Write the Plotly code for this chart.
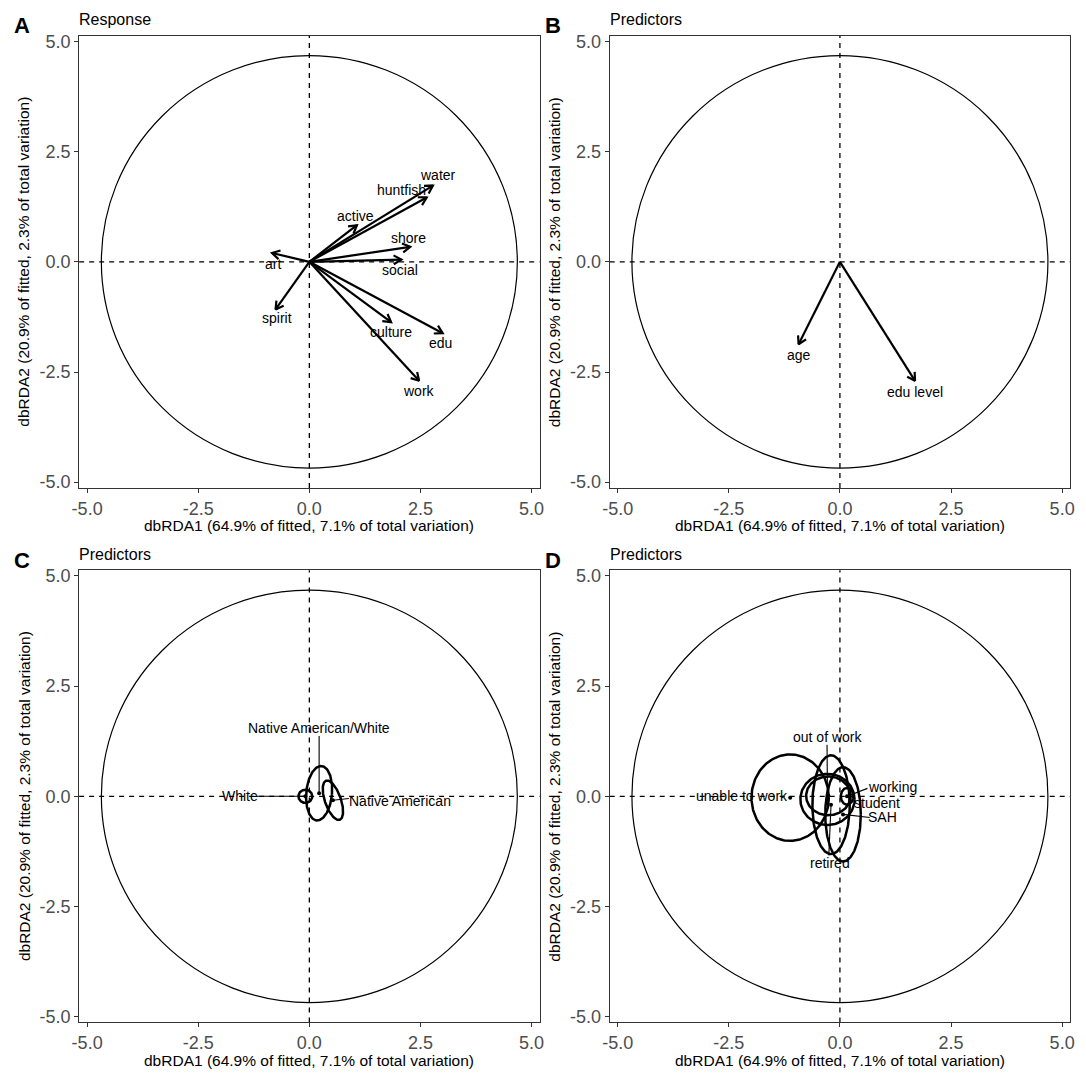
import numpy as np
import plotly.graph_objects as go

# ---------------- data ----------------
tick_vals = [-5.0, -2.5, 0.0, 2.5, 5.0]
tick_text = ["-5.0", "-2.5", "0.0", "2.5", "5.0"]
circle_radius = 4.68

x_title = "dbRDA1 (64.9% of fitted, 7.1% of total variation)"
y_title = "dbRDA2 (20.9% of fitted, 2.3% of total variation)"
panel_letters = ["A", "B", "C", "D"]
panel_titles = ["Response", "Predictors", "Predictors", "Predictors"]

# Panel A: response vectors
resp_names = ["water", "huntfish", "active", "shore", "social", "art", "spirit", "culture", "edu", "work"]
resp_x = [2.78, 2.64, 1.07, 2.27, 2.07, -0.84, -0.76, 1.84, 3.00, 2.47]
resp_y = [1.73, 1.46, 0.83, 0.34, 0.05, 0.20, -1.08, -1.37, -1.62, -2.70]
resp_lab_x = [2.89, 2.07, 1.04, 2.22, 2.04, -0.82, -0.73, 1.84, 2.96, 2.47]
resp_lab_y = [1.96, 1.64, 1.04, 0.54, -0.18, -0.05, -1.28, -1.60, -1.85, -2.93]

# Panel B: continuous predictors
pred_names = ["age", "edu level"]
pred_x = [-0.93, 1.69]
pred_y = [-1.87, -2.70]
pred_lab_x = [-0.93, 1.69]
pred_lab_y = [-2.12, -2.95]

# Panel C: ethnicity centroids and ellipses
eth_names = ["White", "Native American/White", "Native American"]
eth_cx = [-0.09, 0.22, 0.53]
eth_cy = [0.00, 0.07, -0.09]
eth_rx = [0.155, 0.29, 0.18]
eth_ry = [0.15, 0.62, 0.47]
eth_tilt = [0, 5, -19]
eth_lab_x = [-1.55, 0.22, 2.04]
eth_lab_y = [0.00, 1.55, -0.11]
eth_seg_x = [-1.18, 0.22, 0.89]
eth_seg_y = [0.00, 1.37, -0.05]

# Panel D: employment centroids and ellipses
emp_names = ["unable to work", "out of work", "retired", "working", "student", "SAH"]
emp_cx = [-1.12, -0.28, -0.20, 0.16, -0.26, 0.07]
emp_cy = [-0.03, -0.07, -0.19, 0.00, 0.01, -0.41]
emp_rx = [0.87, 0.61, 0.42, 0.14, 0.50, 0.40]
emp_ry = [0.98, 0.58, 1.12, 0.19, 0.44, 1.07]
emp_tilt = [0, 0, 0, 0, 0, 0]
emp_lab_x = [-2.21, -0.29, -0.22, 1.18, 0.84, 0.96]
emp_lab_y = [0.00, 1.35, -1.51, 0.20, -0.15, -0.48]
emp_seg_x = [None, -0.29, -0.25, 0.62, None, 0.67]
emp_seg_y = [None, 1.17, -1.34, 0.18, None, -0.48]

# ---------------- layout geometry ----------------
W, H = 1086, 1074
FONT = "Liberation Sans, Arial, Helvetica, sans-serif"
XR = [-5.18, 5.18]
YR = [-5.13, 5.13]
cols = [(72, 538), (609, 1075)]
rows = [(32, 488), (571, 1027)]
panel_geo = [(cols[0], rows[0]), (cols[1], rows[0]), (cols[0], rows[1]), (cols[1], rows[1])]
PX_X = (cols[0][1] - cols[0][0]) / (XR[1] - XR[0])
PX_Y = (rows[0][1] - rows[0][0]) / (YR[1] - YR[0])

fig = go.Figure()


def refs(i):
    s = "" if i == 0 else str(i + 1)
    return "x" + s, "y" + s


def arrow_path(xs, ys, head=9.0, ang=30.0):
    px, py = [], []
    for x, y in zip(xs, ys):
        px += [0, x, None]
        py += [0, y, None]
        th = np.arctan2(y * PX_Y, x * PX_X)
        for s in (1, -1):
            a = th + s * np.radians(ang)
            hx = x - head * np.cos(a) / PX_X
            hy = y - head * np.sin(a) / PX_Y
            px += [hx, x]
            py += [hy, y]
        px.append(None)
        py.append(None)
    return px, py


def ellipse_path(cx, cy, rx, ry, tilt):
    t = np.linspace(0, 2 * np.pi, 181)
    phi = np.radians(tilt)
    xp, yp = rx * np.cos(t), ry * np.sin(t)
    x = cx + xp * np.cos(phi) + yp * np.sin(phi)
    y = cy - xp * np.sin(phi) + yp * np.cos(phi)
    return list(x), list(y)


annotations = []
shapes = []

for i in range(4):
    xr, yr = refs(i)
    (x0, x1), (y0, y1) = panel_geo[i]
    ax = "xaxis" if i == 0 else "xaxis%d" % (i + 1)
    ay = "yaxis" if i == 0 else "yaxis%d" % (i + 1)
    common = dict(showgrid=False, zeroline=False, showline=True, mirror=True,
                  linecolor="#333333", linewidth=1.2, ticks="outside", ticklen=4,
                  tickcolor="#333333", tickwidth=1.1, tickvals=tick_vals, ticktext=tick_text,
                  tickfont=dict(family=FONT, size=18, color="#4d4d4d"), fixedrange=True)
    fig.layout[ax] = dict(common, domain=[x0 / W, x1 / W], range=XR, anchor=yr)
    fig.layout[ay] = dict(common, domain=[1 - y1 / H, 1 - y0 / H], range=YR, anchor=xr)

    # reference lines and circle
    shapes.append(dict(type="line", xref=xr, yref=yr + " domain", x0=0, x1=0, y0=0, y1=1,
                       line=dict(color="black", width=1.3, dash="5px,5px"), layer="below"))
    shapes.append(dict(type="line", xref=xr + " domain", yref=yr, x0=0, x1=1, y0=0, y1=0,
                       line=dict(color="black", width=1.3, dash="5px,5px"), layer="below"))
    shapes.append(dict(type="circle", xref=xr, yref=yr, x0=-circle_radius, x1=circle_radius,
                       y0=-circle_radius, y1=circle_radius,
                       line=dict(color="black", width=1.2), layer="below"))

    # titles
    annotations.append(dict(text="<b>%s</b>" % panel_letters[i], xref="paper", yref="paper",
                            x=(x0 - 68) / W, y=1 - (y0 - 10) / H, xanchor="left", yanchor="middle",
                            showarrow=False, font=dict(family=FONT, size=22, color="black")))
    annotations.append(dict(text=panel_titles[i], xref="paper", yref="paper",
                            x=(x0 - 2) / W, y=1 - (y0 - 16) / H, xanchor="left", yanchor="middle",
                            showarrow=False, font=dict(family=FONT, size=16, color="black")))
    annotations.append(dict(text=x_title, xref="paper", yref="paper",
                            x=(x0 + x1) / 2 / W, y=1 - (y1 + 38) / H, xanchor="center", yanchor="middle",
                            showarrow=False, font=dict(family=FONT, size=15.5, color="black")))
    annotations.append(dict(text=y_title, xref="paper", yref="paper", textangle=-90,
                            x=(x0 - 56) / W, y=1 - (y0 + y1) / 2 / H, xanchor="center", yanchor="middle",
                            showarrow=False, font=dict(family=FONT, size=15.5, color="black")))


def add_labels(xr, yr, names, lx, ly):
    for n, x, y in zip(names, lx, ly):
        annotations.append(dict(text=n, x=x, y=y, xref=xr, yref=yr, showarrow=False,
                                xanchor="center", yanchor="middle",
                                font=dict(family=FONT, size=14, color="black")))


# Panel A
xr, yr = refs(0)
ax_, ay_ = arrow_path(resp_x, resp_y)
fig.add_trace(go.Scatter(x=ax_, y=ay_, xaxis=xr, yaxis=yr, mode="lines",
                         line=dict(color="black", width=2.2), hoverinfo="skip", showlegend=False))
add_labels(xr, yr, resp_names, resp_lab_x, resp_lab_y)

# Panel B
xr, yr = refs(1)
ax_, ay_ = arrow_path(pred_x, pred_y)
fig.add_trace(go.Scatter(x=ax_, y=ay_, xaxis=xr, yaxis=yr, mode="lines",
                         line=dict(color="black", width=2.2), hoverinfo="skip", showlegend=False))
add_labels(xr, yr, pred_names, pred_lab_x, pred_lab_y)


def add_groups(i, names, cx, cy, rx, ry, tilt, lx, ly, sx, sy):
    xr, yr = refs(i)
    segx, segy = [], []
    for a, b, c, d in zip(sx, sy, cx, cy):
        if a is None:
            continue
        segx += [a, c, None]
        segy += [b, d, None]
    fig.add_trace(go.Scatter(x=segx, y=segy, xaxis=xr, yaxis=yr, mode="lines",
                             line=dict(color="black", width=1.1), hoverinfo="skip", showlegend=False))
    ex, ey = [], []
    for a, b, c, d, t in zip(cx, cy, rx, ry, tilt):
        px, py = ellipse_path(a, b, c, d, t)
        ex += px + [None]
        ey += py + [None]
    fig.add_trace(go.Scatter(x=ex, y=ey, xaxis=xr, yaxis=yr, mode="lines",
                             line=dict(color="black", width=2.5), hoverinfo="skip", showlegend=False))
    fig.add_trace(go.Scatter(x=cx, y=cy, xaxis=xr, yaxis=yr, mode="markers",
                             marker=dict(color="black", size=4), hoverinfo="skip", showlegend=False))
    add_labels(xr, yr, names, lx, ly)


add_groups(2, eth_names, eth_cx, eth_cy, eth_rx, eth_ry, eth_tilt, eth_lab_x, eth_lab_y, eth_seg_x, eth_seg_y)
add_groups(3, emp_names, emp_cx, emp_cy, emp_rx, emp_ry, emp_tilt, emp_lab_x, emp_lab_y, emp_seg_x, emp_seg_y)

fig.update_layout(width=W, height=H, margin=dict(l=0, r=0, t=0, b=0),
                  paper_bgcolor="white", plot_bgcolor="white",
                  annotations=annotations, shapes=shapes, showlegend=False,
                  font=dict(family=FONT))
fig.write_html("out.html", config={"displayModeBar": False})
